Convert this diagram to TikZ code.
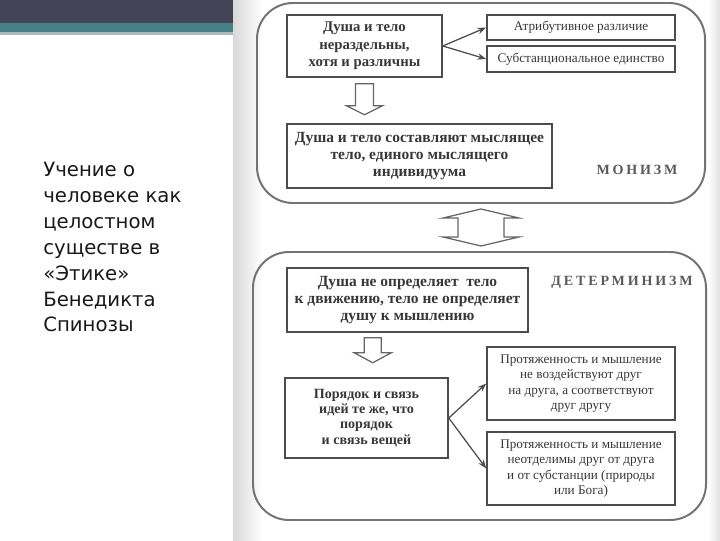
\documentclass[tikz,border=0pt]{standalone}
\usepackage{fontspec}
\setmainfont{Liberation Serif}
\newfontfamily\slidefont{DejaVu Sans}
\usetikzlibrary{calc,arrows.meta,positioning}

\definecolor{barDark}{RGB}{67,68,88}
\definecolor{barTeal}{RGB}{72,128,136}
\definecolor{barLine}{RGB}{172,186,190}
\definecolor{scanInk}{RGB}{55,55,55}

\begin{document}
\begin{tikzpicture}[
		x=0.025cm, y=-0.025cm,
		>={Stealth[length=2.2mm,width=1.6mm]},
		every node/.style={text=scanInk},
		% Stijlen
		frame/.style={draw=black!55, line width=1.4pt, rounded corners=9mm},
		box/.style={draw=black!70, line width=1.1pt, align=center, inner sep=2pt},
		mainbox/.style={box, font=\bfseries\fontsize{10.5}{12.6}\selectfont},
		sidebox/.style={box, font=\fontsize{9.4}{11}\selectfont},
		hollow/.style={draw=black!60, line width=0.9pt, fill=white},
		link/.style={->, draw=black!70, line width=0.9pt},
		title/.style={font=\bfseries\fontsize{10}{12}\selectfont\addfontfeature{LetterSpace=20}, text=black!65}
	]

	% --- Parameters ---
	\def\u{0.025cm}     % 1 pixel van de dia

	\useasboundingbox (0,0) rectangle (720,540);

	% --- 1. DIA-ACHTERGROND ---
	\fill[barDark] (0,0) rectangle (233,23);
	\fill[barTeal] (0,23) rectangle (233,32);
	\fill[barLine] (0,32) rectangle (233,35);
	\shade[left color=black!15, right color=white] (233,0) rectangle (262,540);
	\shade[left color=white, right color=black!12] (708,0) rectangle (720,540);

	\node[anchor=north west, inner sep=0, align=left, text=black!90,
		font=\slidefont\fontsize{14}{18.4}\selectfont] (lesson) at (43,162)
		{Учение о\\человеке как\\целостном\\существе в\\«Этике»\\Бенедикта\\Спинозы};

	% --- 2. MONISME ---
	\node[frame, minimum width=448*\u, minimum height=200*\u] (monism) at (481,103) {};

	\node[mainbox, minimum width=155*\u, minimum height=62*\u] (whole) at (364.5,46)
		{Душа и тело\\нераздельны,\\хотя и различны};
	\node[sidebox, minimum width=188*\u, minimum height=25*\u] (attr) at (581,27.5)
		{Атрибутивное различие};
	\node[sidebox, minimum width=188*\u, minimum height=26*\u] (subst) at (581,59)
		{Субстанциональное единство};
	\node[mainbox, minimum width=265*\u, minimum height=64*\u,
		font=\bfseries\fontsize{11}{12.2}\selectfont] (thinking) at (419.5,156)
		{Душа и тело составляют мыслящее\\тело, единого мыслящего\\индивидуума};
	\node[title] (monlabel) at (637,170) {МОНИЗМ};

	\draw[link] (whole.east) -- (attr.west);
	\draw[link] (whole.east) -- (subst.west);

	% holle pijl naar beneden
	\draw[hollow] ($(whole.south)+(-9,6)$) -- ++(18,0) -- ++(0,22) -- ++(9,0)
		-- ++(-18,9) -- ++(-18,-9) -- ++(9,0) -- cycle;

	% --- 3. DETERMINISME ---
	\node[frame, minimum width=453*\u, minimum height=268*\u] (determ) at (479.5,386) {};

	% dubbele holle pijl tussen de twee kaders
	\draw[hollow] ($(monism.south)+(0,5)$) -- ++(38,9) -- ++(-15,0) -- ++(0,19)
		-- ++(15,0) -- ++(-38,9) -- ++(-38,-9) -- ++(15,0) -- ++(0,-19)
		-- ++(-15,0) -- cycle;

	\node[mainbox, minimum width=241*\u, minimum height=64*\u,
		font=\bfseries\fontsize{11}{12.2}\selectfont] (motion) at (407.5,300)
		{Душа не определяет \ тело\\к движению, тело не определяет\\душу к мышлению};
	\node[title] (detlabel) at (622,282) {ДЕТЕРМИНИЗМ};

	\node[mainbox, minimum width=163*\u, minimum height=80*\u,
		font=\bfseries\fontsize{10}{10.8}\selectfont] (order) at (366.5,418)
		{Порядок и связь\\идей те же, что\\порядок\\и связь вещей};
	\node[sidebox, minimum width=188*\u, minimum height=73*\u] (corresp) at (581,383.5)
		{Протяженность и мышление\\не воздействуют друг\\на друга, а соответствуют\\друг другу};
	\node[sidebox, minimum width=188*\u, minimum height=73*\u] (insep) at (581,468.5)
		{Протяженность и мышление\\неотделимы друг от друга\\и от субстанции (природы\\или Бога)};

	\draw[link] (order.east) -- (corresp.west);
	\draw[link] (order.east) -- (insep.west);

	\draw[hollow] ($(motion.south west)+(78,5)$) -- ++(17,0) -- ++(0,15) -- ++(10,0)
		-- ++(-18.5,10) -- ++(-18.5,-10) -- ++(10,0) -- cycle;

\end{tikzpicture}
\end{document}
